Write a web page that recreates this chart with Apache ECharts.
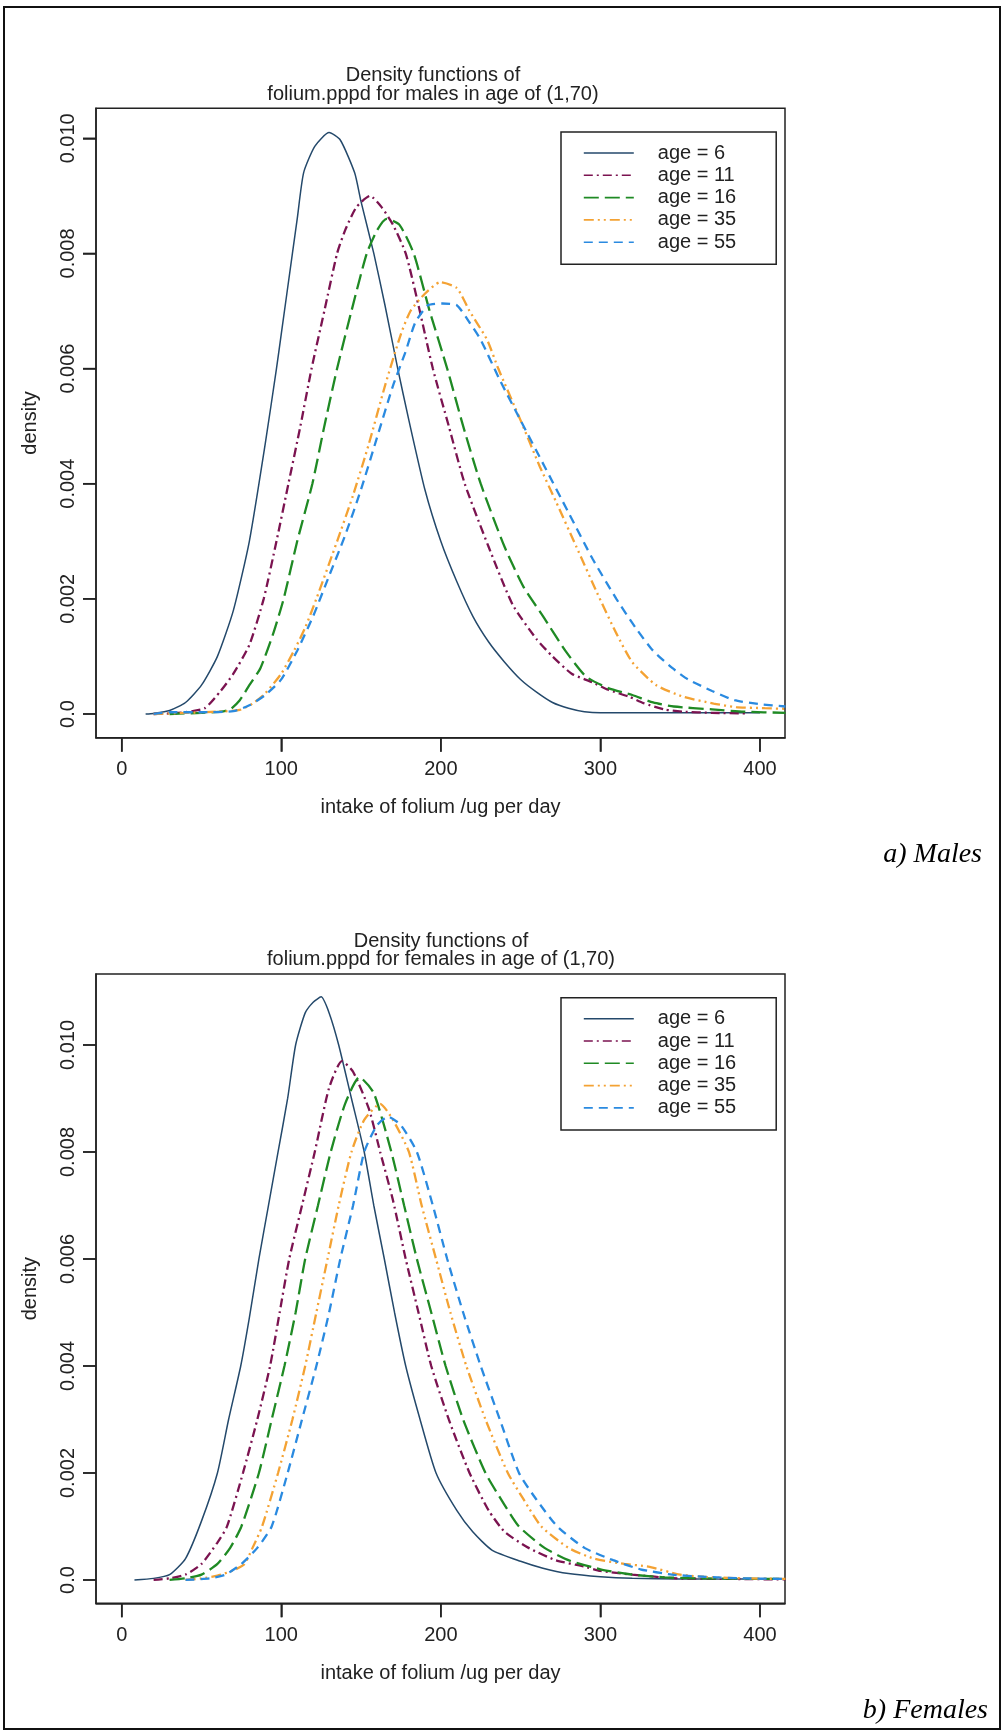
<!DOCTYPE html>
<html>
<head>
<meta charset="utf-8">
<script src="https://cdn.jsdelivr.net/npm/echarts@6/dist/echarts.min.js"></script>
<style>
  html, body { margin: 0; padding: 0; background: #fff; }
  #chart { width: 1002px; height: 1731px; }
</style>
</head>
<body>
<div id="chart"></div>
<script>
// Estimated density of folate intake (ug per day) by age, [intake, density]
const ageNames = ['age = 6', 'age = 11', 'age = 16', 'age = 35', 'age = 55'];

const malesAge6 = [[15,0],[20,0.00001],[30,0.00006],[40,0.0002],[50,0.0005],[60,0.001],[70,0.0018],[80,0.003],[90,0.0047],[97,0.006],[100,0.0066],[107,0.008],[110,0.0086],[114,0.0094],[121,0.00986],[130,0.0101],[137,0.00997],[146,0.0094],[150,0.0089],[158,0.008],[165,0.0071],[173,0.006],[180,0.0051],[190,0.0039],[200,0.003],[210,0.0023],[220,0.0017],[230,0.00125],[240,0.0009],[250,0.0006],[260,0.00038],[270,0.0002],[280,0.0001],[290,0.00004],[300,0.00002],[350,0.00002],[400,0.00002]];
const malesAge11 = [[20,0],[30,0.00001],[40,0.00003],[52,0.0001],[62,0.0004],[70,0.0007],[80,0.0012],[89,0.002],[97,0.003],[104.5,0.004],[112,0.005],[119,0.006],[127,0.007],[135,0.008],[140,0.0084],[147,0.0088],[155.6,0.009],[163,0.0088],[170,0.0085],[178,0.008],[186,0.0071],[195,0.006],[205,0.005],[215,0.004],[230,0.0029],[245,0.0019],[260,0.0013],[270,0.001],[282,0.0007],[295,0.00055],[305,0.00042],[318,0.0003],[327,0.00019],[340,0.00008],[352,0.00004],[370,0.00002],[392,0.00001]];
const malesAge16 = [[30,0],[50,0.00002],[62,0.00004],[68,0.00008],[74,0.00024],[80,0.0005],[87,0.0008],[95,0.0014],[101.5,0.002],[110,0.003],[119.5,0.004],[127,0.005],[135,0.006],[144,0.007],[153.6,0.008],[160,0.0084],[166,0.0086],[174,0.0085],[183,0.008],[193,0.007],[204,0.006],[214,0.005],[225,0.004],[240,0.0029],[252,0.0022],[264,0.0017],[278,0.0011],[291,0.00065],[305,0.00045],[320,0.00033],[333,0.0002],[346,0.00013],[370,0.00008],[390,0.00004],[416,0.00002]];
const malesAge35 = [[20,0],[40,0.00002],[60,0.00004],[74,0.00007],[82,0.00018],[90,0.00036],[100,0.0007],[108,0.0011],[115,0.0015],[122,0.002],[135,0.003],[145,0.0038],[155,0.0047],[165,0.0057],[175,0.0066],[181,0.007],[190,0.0073],[199.5,0.0075],[210,0.0074],[218,0.007],[229,0.0065],[236,0.006],[250,0.0051],[262,0.0043],[272,0.0037],[285,0.0029],[298,0.0021],[310,0.0014],[320,0.0009],[335,0.0005],[352,0.0003],[371,0.00018],[385,0.00012],[403,0.0001],[416,0.00009]];
const malesAge55 = [[20,0],[30,0.00003],[50,0.00003],[70,0.00005],[80,0.00015],[90,0.00033],[100,0.0006],[110,0.0011],[120,0.0017],[130,0.0024],[140,0.0031],[150,0.0039],[160,0.0048],[170,0.0057],[178,0.0063],[184,0.0068],[192,0.0071],[201,0.00713],[210,0.0071],[218,0.0068],[225,0.0065],[237,0.0058],[250,0.0051],[265,0.0043],[280,0.0035],[295,0.0027],[310,0.002],[322,0.0015],[333,0.0011],[345,0.0008],[355,0.0006],[370,0.0004],[384,0.00024],[400,0.00017],[416,0.00013]];

const femalesAge6 = [[8,0],[20,0.00003],[30,0.0001],[40,0.0004],[50,0.0011],[60,0.002],[67,0.003],[74.6,0.004],[80,0.0049],[86,0.006],[92,0.007],[98,0.008],[104,0.009],[109,0.01],[115,0.0106],[120,0.0108],[125,0.0109],[130,0.0106],[136,0.01],[144,0.009],[152,0.008],[158,0.007],[164.6,0.006],[171,0.005],[178,0.004],[187,0.003],[197,0.002],[210,0.0013],[220,0.0009],[232,0.00056],[250,0.00035],[264,0.00022],[280,0.00012],[300,0.00006],[320,0.00003],[350,0.00002],[416,0.00002]];
const femalesAge11 = [[20,0],[30,0.00003],[40,0.0001],[50,0.0003],[60,0.0007],[66,0.001],[76,0.002],[85,0.003],[93,0.004],[99,0.005],[105,0.006],[113,0.007],[121,0.008],[130,0.0092],[138,0.0097],[145,0.0095],[155,0.0088],[162,0.008],[170,0.0071],[178,0.006],[186,0.005],[194,0.004],[205,0.003],[218,0.002],[230,0.0013],[240,0.0009],[255,0.0006],[272,0.00037],[290,0.00025],[300,0.00017],[320,0.0001],[348,0.00003],[380,0.00002],[416,0.00001]];
const femalesAge16 = [[30,0],[40,0.00003],[50,0.0001],[60,0.0003],[68,0.0006],[75,0.001],[86,0.002],[94,0.003],[102,0.004],[109,0.005],[115,0.006],[123,0.007],[131,0.008],[140,0.0089],[149,0.0094],[158,0.0091],[169,0.008],[177,0.007],[185,0.006],[194,0.005],[203,0.004],[214,0.003],[228,0.002],[240,0.0014],[249,0.001],[265,0.0006],[280,0.00037],[300,0.0002],[320,0.0001],[340,0.00005],[360,0.00003],[416,0.00002]];
const femalesAge35 = [[40,0],[50,0.00003],[60,0.00008],[70,0.00018],[77,0.0003],[82,0.0006],[88,0.001],[98,0.002],[107,0.003],[115,0.004],[122,0.005],[129,0.006],[136,0.007],[144,0.008],[152,0.0086],[162,0.0089],[170,0.0086],[180,0.008],[188,0.007],[197,0.006],[206,0.005],[216,0.004],[228,0.003],[242,0.002],[252,0.0015],[263,0.001],[280,0.0006],[296,0.0004],[315,0.0003],[330,0.00025],[350,0.0001],[370,0.00005],[390,0.00003],[416,0.00002]];
const femalesAge55 = [[40,0],[55,0.00003],[65,0.0001],[75,0.0003],[85,0.0006],[94,0.001],[104,0.002],[113,0.003],[122,0.004],[130,0.005],[137,0.006],[145,0.007],[152,0.008],[160,0.0085],[167,0.00866],[175,0.0085],[185,0.008],[195,0.007],[204,0.006],[214,0.005],[225,0.004],[237,0.003],[249,0.002],[260,0.0015],[273,0.001],[290,0.0006],[308,0.00037],[325,0.0002],[345,0.0001],[365,0.00006],[390,0.00003],[416,0.00002]];

const xTicks = [0, 100, 200, 300, 400];
const yTicks = [0, 0.002, 0.004, 0.006, 0.008, 0.010];
const yTickLabels = ['0.0', '0.002', '0.004', '0.006', '0.008', '0.010'];

const FONT = 'Liberation Sans, Arial, sans-serif';
const INK = '#222';
const X_MIN = -16.1, X_MAX = 415.7;

// line styles per age group: colour, width, dash pattern
const lineStyles = [
  { color: '#24496b', width: 1.5, type: 'solid' },
  { color: '#7b1350', width: 2.3, type: [9, 4, 2, 4] },
  { color: '#1f8a24', width: 2.3, type: [15, 6] },
  { color: '#f4a233', width: 2.3, type: [10, 4, 2, 4, 2, 4] },
  { color: '#2a8ae0', width: 2.3, type: [9, 6] }
];

const panels = [
  { title: 'Density functions of\nfolium.pppd for males in age of (1,70)', top: 108.3, height: 629.4, titleX: 428,
    yMin: -0.000412, yMax: 0.010521, series: [malesAge6, malesAge11, malesAge16, malesAge35, malesAge55] },
  { title: 'Density functions of\nfolium.pppd for females in age of (1,70)', top: 974, height: 629.3, titleX: 436,
    yMin: -0.000436, yMax: 0.011327, series: [femalesAge6, femalesAge11, femalesAge16, femalesAge35, femalesAge55] }
];

const gridLeft = 96, gridWidth = 689;
const tickStyle = { color: INK, width: 1.5 };

// linear value -> pixel mapping of a panel frame (same mapping as its value axes)
function framePixel(p, x, y) {
  return [
    gridLeft + (x - X_MIN) / (X_MAX - X_MIN) * gridWidth,
    p.top + p.height - (y - p.yMin) / (p.yMax - p.yMin) * p.height
  ];
}

// outward tick marks on the bottom and left edges of each plot frame
const tickGraphic = [];
panels.forEach((p, i) => {
  xTicks.forEach((v, j) => {
    const pt = framePixel(p, v, p.yMin);
    tickGraphic.push({ id: 'xt' + i + '_' + j, type: 'line', silent: true, z: 100,
      shape: { x1: pt[0], y1: pt[1], x2: pt[0], y2: pt[1] + 14 },
      style: { stroke: INK, lineWidth: 1.5 } });
  });
  yTicks.forEach((v, j) => {
    const pt = framePixel(p, X_MIN, v);
    tickGraphic.push({ id: 'yt' + i + '_' + j, type: 'line', silent: true, z: 100,
      shape: { x1: pt[0], y1: pt[1], x2: pt[0] - 13, y2: pt[1] },
      style: { stroke: INK, lineWidth: 1.5 } });
  });
});

const baseGraphic = [
  { id: 'frame', type: 'rect', shape: { x: 4, y: 7, width: 996, height: 1722 },
    style: { fill: 'transparent', stroke: '#111', lineWidth: 2 }, silent: true },
  { id: 'labelA', type: 'text', right: 20, top: 841,
    style: { text: 'a) Males', font: 'italic 28px "Liberation Serif", "Times New Roman", serif', fill: '#000' } },
  { id: 'labelB', type: 'text', right: 14, top: 1697,
    style: { text: 'b) Females', font: 'italic 28px "Liberation Serif", "Times New Roman", serif', fill: '#000' } }
];

const option = {
  backgroundColor: '#fff',
  animation: false,
  title: panels.map(p => ({
    text: p.title,
    left: p.titleX,
    top: p.top - 47,
    textAlign: 'center',
    textStyle: { fontFamily: FONT, fontSize: 20, fontWeight: 'normal', color: INK, lineHeight: 18.5 }
  })),
  legend: panels.map(p => ({
    data: ageNames,
    orient: 'vertical',
    left: 561,
    top: p.top + 23.7,
    padding: [11, 40, 12, 22],
    itemWidth: 50,
    itemHeight: 12,
    itemGap: 2.3,
    borderColor: INK,
    borderWidth: 1.5,
    backgroundColor: '#fff',
    selectedMode: false,
    itemStyle: { opacity: 0 },
    lineStyle: { width: 1.6 },
    textStyle: { fontFamily: FONT, fontSize: 20, color: INK, padding: [0, 0, 0, 19] }
  })),
  grid: panels.map(p => ({
    left: gridLeft, top: p.top, width: gridWidth, height: p.height,
    show: true, borderColor: INK, borderWidth: 1.5, backgroundColor: 'transparent'
  })),
  xAxis: panels.map((p, i) => ({
    type: 'value', gridIndex: i, min: X_MIN, max: X_MAX, position: 'bottom',
    name: 'intake of folium /ug per day', nameLocation: 'middle', nameGap: 60,
    nameTextStyle: { fontFamily: FONT, fontSize: 20, color: INK },
    axisLine: { show: true, onZero: false, lineStyle: tickStyle },
    axisTick: { show: true, inside: false, length: 14, lineStyle: tickStyle, customValues: xTicks },
    axisLabel: { fontFamily: FONT, fontSize: 20, color: INK, margin: 22, customValues: xTicks },
    splitLine: { show: false }
  })),
  yAxis: panels.map((p, i) => ({
    type: 'value', gridIndex: i, min: p.yMin, max: p.yMax, position: 'left',
    name: 'density', nameLocation: 'middle', nameGap: 56, nameRotate: 90,
    nameTextStyle: { fontFamily: FONT, fontSize: 20, color: INK },
    axisLine: { show: true, onZero: false, lineStyle: tickStyle },
    axisTick: { show: true, inside: false, length: 13, lineStyle: tickStyle, customValues: yTicks },
    axisLabel: {
      fontFamily: FONT, fontSize: 20, color: INK, margin: 18, rotate: 90, customValues: yTicks,
      formatter: v => {
        const k = yTicks.findIndex(t => Math.abs(t - v) < 1e-9);
        return k >= 0 ? yTickLabels[k] : '';
      }
    },
    splitLine: { show: false }
  })),
  series: [],
  graphic: baseGraphic.concat(tickGraphic)
};

panels.forEach((p, i) => {
  p.series.forEach((data, k) => {
    const ls = lineStyles[k];
    option.series.push({
      type: 'line', name: ageNames[k], xAxisIndex: i, yAxisIndex: i,
      data: data, showSymbol: false, symbol: 'none', smooth: 0.2, clip: true,
      lineStyle: { color: ls.color, width: ls.width, type: ls.type },
      itemStyle: { color: ls.color },
      emphasis: { disabled: true }
    });
  });
});

const chart = echarts.init(document.getElementById('chart'), null, { renderer: 'canvas' });
chart.setOption(option);
</script>
</body>
</html>
